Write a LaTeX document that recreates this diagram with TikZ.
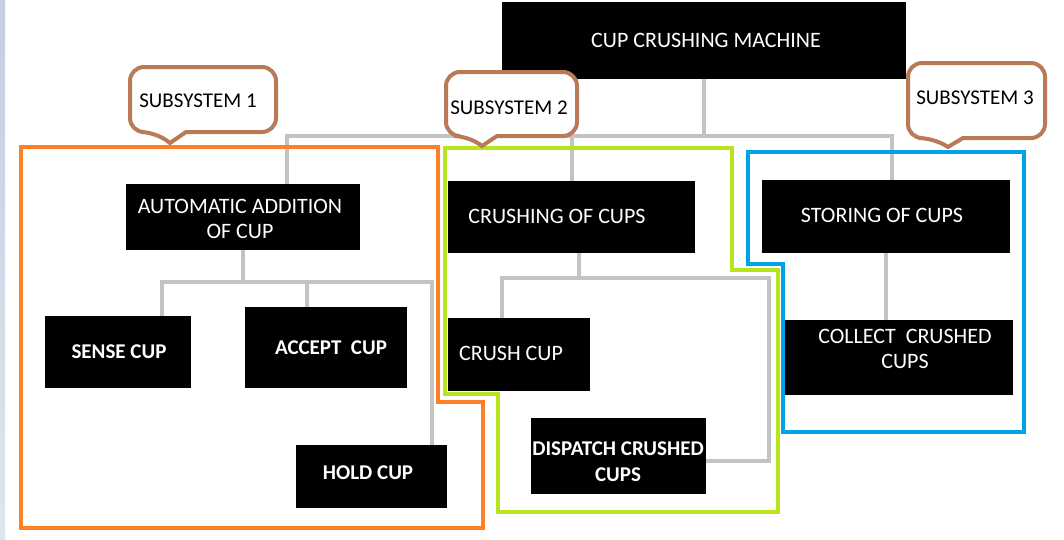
\documentclass[tikz,border=0pt]{standalone}
\usepackage{fontspec}
\setmainfont{Carlito}
\usetikzlibrary{fit}
\definecolor{conngray}{HTML}{C3C3C3}
\definecolor{sysorange}{HTML}{FF7F27}
\definecolor{sysgreen}{HTML}{B5E61D}
\definecolor{sysblue}{HTML}{00A2E8}
\definecolor{callbrown}{HTML}{B97A57}
\definecolor{stripA}{HTML}{C5CFDF}
\definecolor{stripB}{HTML}{DDE5F0}
\begin{document}
\begin{tikzpicture}[x=1pt,y=-1pt,
  box/.style={fill=black,draw=none,inner sep=0pt},
  boxtxt/.style={text=white,inner sep=0pt,align=center,font=\fontsize{22}{25}\selectfont},
  boxtxtb/.style={text=white,inner sep=0pt,align=center,font=\fontsize{21}{26}\selectfont\bfseries},
  subtxt/.style={text=black,inner sep=0pt,font=\fontsize{21}{24}\selectfont},
  conn/.style={draw=conngray,line width=4pt},
  sysline/.style={line width=4.5pt,line join=miter},
  callout/.style={draw=callbrown,fill=white,line width=4pt}
]
\useasboundingbox (0,0) rectangle (1064,539);
\fill[white] (0,0) rectangle (1064,539);
\shade[top color=stripA,bottom color=stripB] (0,0) rectangle (5,539);

% boxes
\node[box,fit={(502,2) (906,79)}] (top) {};
\node[box,fit={(126,184) (360,250)}] (auto) {};
\node[box,fit={(448,181) (695,253)}] (crushing) {};
\node[box,fit={(762,180) (1010,253)}] (store) {};
\node[box,fit={(45,316) (191,388)}] (sense) {};
\node[box,fit={(245,307) (407,388)}] (accept) {};
\node[box,fit={(296,445) (447,508)}] (hold) {};
\node[box,fit={(448,318) (590,391)}] (crush) {};
\node[box,fit={(531,418) (706,494)}] (dispatch) {};
\node[box,fit={(784,320) (1013,395)}] (collect) {};

% bus coordinates
\coordinate (busA) at (287,136);
\coordinate (busB) at (892,136);
\coordinate (b1L) at (162,282);
\coordinate (b1M) at (307,282);
\coordinate (b1R) at (432,282);
\coordinate (b2L) at (502,278);
\coordinate (b2M) at (579,278);
\coordinate (b2R) at (769,278);
\coordinate (b2D) at (769,461);

% connectors
\draw[conn] (top.south) -- (top.south |- busA);
\draw[conn] (auto.north -| busA) -- (busA) -- (busB) -- (store.north -| busB);
\draw[conn] (crushing.north) -- (crushing.north |- busA);
\draw[conn] (auto.south) -- (auto.south |- b1L);
\draw[conn] (sense.north -| b1L) -- (b1L) -- (b1R) -- (hold.north -| b1R);
\draw[conn] (b1M) -- (accept.north -| b1M);
\draw[conn] (crushing.south -| b2M) -- (b2M);
\draw[conn] (crush.north -| b2L) -- (b2L) -- (b2R) -- (b2D) -- (dispatch.east |- b2D);
\draw[conn] (store.south) -- (store.south |- collect.north);

% subsystem outlines
\draw[sysline,draw=sysorange] (21,147) -- (438,147) -- (438,402) -- (483,402) -- (483,528) -- (21,528) -- cycle;
\draw[sysline,draw=sysgreen] (445,148) -- (732,148) -- (732,270) -- (778,270) -- (778,512) -- (498,512) -- (498,394) -- (445,394) -- cycle;
\draw[sysline,draw=sysblue] (748,152) -- (1024,152) -- (1024,432) -- (783,432) -- (783,264) -- (748,264) -- cycle;

% callouts
\draw[callout] (155,132) -- (170,143) -- (186,132) [rounded corners=14] -- (276,132) -- (276,67) -- (130,67) -- (130,132) -- cycle;
\draw[callout] (468,136) -- (482,146) -- (497,136) [rounded corners=14] -- (577,136) -- (577,72) -- (446,72) -- (446,136) -- cycle;
\draw[callout] (933,138) -- (948,147) -- (963,138) [rounded corners=14] -- (1045,138) -- (1045,63) -- (908,63) -- (908,138) -- cycle;
\node[subtxt] (s1) at (198,101) {SUBSYSTEM 1};
\node[subtxt] (s2) at (509,108) {SUBSYSTEM 2};
\node[subtxt] (s3) at (975,98) {SUBSYSTEM 3};

% box texts
\node[boxtxt] (topT) at (706,40) {CUP CRUSHING MACHINE};
\node[boxtxt] (autoT) at (240,219) {AUTOMATIC ADDITION\\OF CUP};
\node[boxtxt] (crushingT) at (557,216) {CRUSHING OF CUPS};
\node[boxtxt] (storeT) at (882,215) {STORING OF CUPS};
\node[boxtxtb] (senseT) at (119,352) {SENSE CUP};
\node[boxtxtb] (acceptT) at (331,348) {ACCEPT\ \ CUP};
\node[boxtxtb] (holdT) at (368,473) {HOLD CUP};
\node[boxtxt] (crushT) at (511,353) {CRUSH CUP};
\node[boxtxtb] (dispatchT) at (618,462) {DISPATCH CRUSHED\\CUPS};
\node[boxtxt] (collectT) at (905,349) {COLLECT\ \ CRUSHED\\CUPS};
\end{tikzpicture}
\end{document}
